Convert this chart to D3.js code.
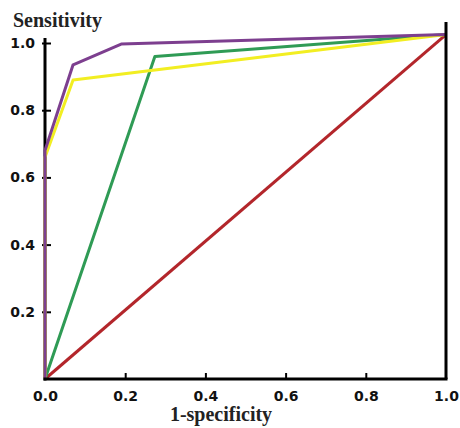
<!DOCTYPE html>
<html><head><meta charset="utf-8">
<script src="https://cdn.jsdelivr.net/npm/d3@7"></script>
<style>html,body{margin:0;padding:0;background:#fff;}svg{display:block;}</style>
</head><body>
<script>
const xTicks = [0.0, 0.2, 0.4, 0.6, 0.8, 1.0];
const yTicks = [0.2, 0.4, 0.6, 0.8, 1.0];
const xTickLabels = ["0.0", "0.2", "0.4", "0.6", "0.8", "1.0"];
const yTickLabels = ["0.2", "0.4", "0.6", "0.8", "1.0"];
const redX = [0, 1.0];
const redY = [0, 1.025];
const greenX = [0, 0.274, 1.0];
const greenY = [0, 0.96, 1.025];
const yellowX = [0, 0, 0.07, 1.0];
const yellowY = [0, 0.66, 0.89, 1.025];
const purpleX = [0, 0, 0.07, 0.19, 1.0];
const purpleY = [0, 0.68, 0.935, 0.997, 1.025];
const seriesNames = ["red", "green", "yellow", "purple"];
const seriesColors = ["#b3262b", "#2f9b55", "#f2ee22", "#7d3f8f"];
const seriesX = [redX, greenX, yellowX, purpleX];
const seriesY = [redY, greenY, yellowY, purpleY];

const W = 460, H = 428;
const svg = d3.select("body").append("svg").attr("width", W).attr("height", H);
const x = d3.scaleLinear().domain([0, 1]).range([45, 446]);
const y = d3.scaleLinear().domain([0, 1]).range([379, 43]);
const tickFont = "'DejaVu Sans', Verdana, sans-serif";
const titleFont = "'Liberation Serif', 'Times New Roman', serif";

// y axis line (drawn beneath the curves)
svg.append("line").attr("x1", x(0)).attr("x2", x(0)).attr("y1", 38).attr("y2", y(0) + 1.5)
  .attr("stroke", "#000").attr("stroke-width", 3);

// y axis ticks & labels
const yAxis = d3.axisLeft(y).tickValues(yTicks).tickFormat((d, i) => yTickLabels[i])
  .tickSizeInner(4).tickSizeOuter(0).tickPadding(6);
const gy = svg.append("g").attr("transform", `translate(${x(0)},0)`).call(yAxis);
gy.select(".domain").remove();
gy.selectAll(".tick line").attr("x1", -3).attr("x2", 6).attr("stroke", "#000").attr("stroke-width", 2);
gy.selectAll(".tick text").attr("font-family", tickFont).attr("font-weight", "bold")
  .attr("font-size", 14).attr("fill", "#111");

// series
const line = d3.line().x(d => x(d[0])).y(d => y(d[1]));
seriesNames.forEach((n, i) => {
  const pts = seriesX[i].map((v, j) => [v, seriesY[i][j]]);
  svg.append("path").attr("d", line(pts)).attr("fill", "none")
    .attr("stroke", seriesColors[i]).attr("stroke-width", 3)
    .attr("stroke-linejoin", "round");
});

// x axis
const xAxis = d3.axisBottom(x).tickValues(xTicks).tickFormat((d, i) => xTickLabels[i])
  .tickSizeInner(0).tickSizeOuter(0).tickPadding(12);
const gx = svg.append("g").attr("transform", `translate(0,${y(0)})`).call(xAxis);
gx.select(".domain").remove();
gx.selectAll(".tick line").filter(d => d > 0 && d < 1).attr("y1", 0).attr("y2", -6)
  .attr("stroke", "#000").attr("stroke-width", 2);
gx.selectAll(".tick text").attr("font-family", tickFont).attr("font-weight", "bold")
  .attr("font-size", 14).attr("fill", "#111");
svg.append("line").attr("x1", x(0) - 1.5).attr("x2", x(1) + 1.5).attr("y1", y(0)).attr("y2", y(0))
  .attr("stroke", "#000").attr("stroke-width", 3);
svg.append("line").attr("x1", x(1)).attr("x2", x(1)).attr("y1", 22).attr("y2", y(0))
  .attr("stroke", "#000").attr("stroke-width", 3);

// titles
svg.append("text").attr("x", 13).attr("y", 27).text("Sensitivity")
  .attr("font-family", titleFont).attr("font-weight", "bold").attr("font-size", 20).attr("fill", "#222");
svg.append("text").attr("x", 221).attr("y", 421).attr("text-anchor", "middle").text("1-specificity")
  .attr("font-family", titleFont).attr("font-weight", "bold").attr("font-size", 20).attr("fill", "#222");
</script>
</body></html>
